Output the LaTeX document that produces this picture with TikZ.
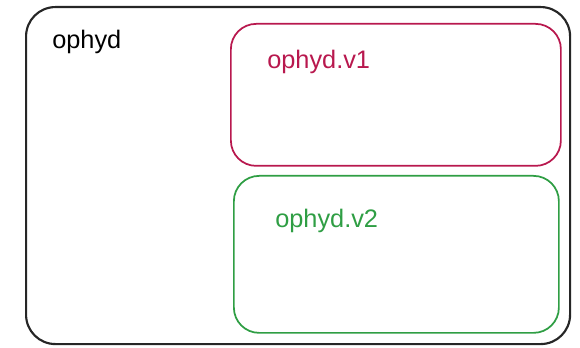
\documentclass[tikz,border=0pt]{standalone}
\usepackage{fontspec}
\setmainfont{Liberation Sans}
\definecolor{vred}{HTML}{B8184E}
\definecolor{vgreen}{HTML}{2F9E44}
\begin{document}
\begin{tikzpicture}[x=0.75pt,y=-0.75pt,
  outerbox/.style={draw=black!85,line width=1.6pt,rounded corners=22pt},
  innerbox/.style={line width=1.3pt,rounded corners=19pt},
  lbl/.style={anchor=west,inner sep=0pt,font=\fontsize{19}{22}\selectfont}]
\useasboundingbox (0,0) rectangle (580,348);
\node[outerbox,minimum width=544*0.75pt,minimum height=337*0.75pt,anchor=north west] (outer) at (25,6) {};
\node[innerbox,draw=vred,minimum width=330*0.75pt,minimum height=142*0.75pt,anchor=north west] (v1) at (230,23) {};
\node[innerbox,draw=vgreen,minimum width=325*0.75pt,minimum height=157*0.75pt,anchor=north west] (v2) at (233,175) {};
\node[lbl] (t0) at (52,42) {ophyd};
\node[lbl,text=vred] (t1) at (267,62) {ophyd.v1};
\node[lbl,text=vgreen] (t2) at (275,221) {ophyd.v2};
\end{tikzpicture}
\end{document}
